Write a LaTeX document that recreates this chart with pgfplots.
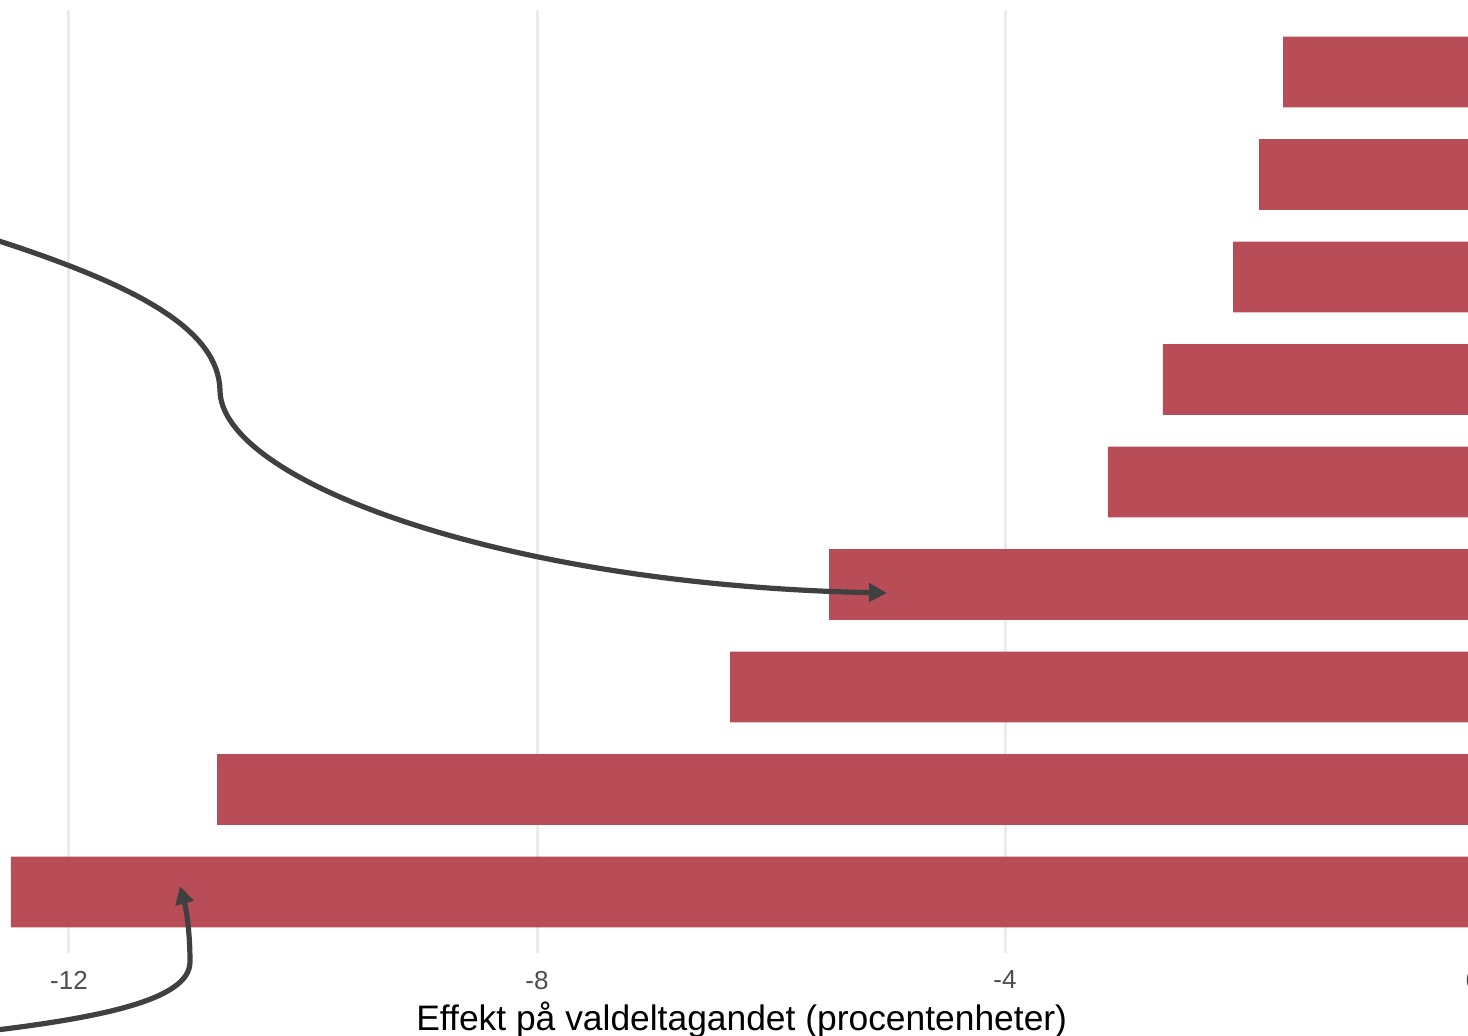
\documentclass[border=0pt]{standalone}
\usepackage{pgfplots}
\pgfplotsset{compat=1.18}
\usepackage{fontspec}
\setmainfont{Liberation Sans}
\usetikzlibrary{arrows.meta}
\definecolor{barred}{HTML}{B94D57}
\definecolor{gridgray}{HTML}{EBEBEB}
\definecolor{ticktext}{HTML}{4D4D4D}
\definecolor{arrowgray}{HTML}{404040}

\begin{document}
\begin{tikzpicture}
\begin{axis}[
    scale only axis,
    width=804.375pt,
    height=471.5pt,
    xmin=-13.125, xmax=0.625,
    ymin=0.4, ymax=9.6,
    axis line style={draw=none},
    xbar,
    bar width=0.69,
    bar shift=0pt,
    xtick={-12,-8,-4,0},
    xticklabels={-12,-8,-4,0},
    ytick=\empty,
    major tick length=0pt,
    xmajorgrids=true,
    grid style={gridgray, line width=1.5pt},
    xticklabel style={font=\fontsize{13}{15}\selectfont, text=ticktext,
        anchor=north, inner sep=0pt, yshift=-8.5pt},
    xlabel={Effekt på valdeltagandet (procentenheter)},
    xlabel style={font=\fontsize{17.7}{21}\selectfont, text=black,
        at={(axis description cs:0.5,-0.082)}, anchor=base, inner sep=0pt},
]
\addplot[fill=barred, draw=none] coordinates {
    (-12.496,1)
    (-10.735,2)
    (-6.350,3)
    (-5.504,4)
    (-3.120,5)
    (-2.650,6)
    (-2.051,7)
    (-1.829,8)
    (-1.624,9)
};
\coordinate (O) at (axis cs:-12.5897,9.7024);
\coordinate (BR) at (axis cs:-0.0427,-0.4049);
\end{axis}
% annotation arrows, in pixel units of the picture
\begin{scope}[shift={(O)}, x=0.5pt, y=-0.5pt, line width=2.6pt]
  \draw[-{Triangle[length=9pt,width=9pt]}, arrowgray]
    (-20,235) .. controls (140,285) and (218,330) .. (220,390)
    .. controls (220,480) and (500,585) .. (887,593);
  \draw[-{Triangle[length=9pt,width=9pt]}, arrowgray]
    (-20,1032) .. controls (100,1018) and (190,1000) .. (190,962)
    .. controls (190,935) and (187,912) .. (180,886);
\end{scope}
\pgfresetboundingbox
\path[use as bounding box] (O) rectangle (BR);
\end{tikzpicture}
\end{document}
